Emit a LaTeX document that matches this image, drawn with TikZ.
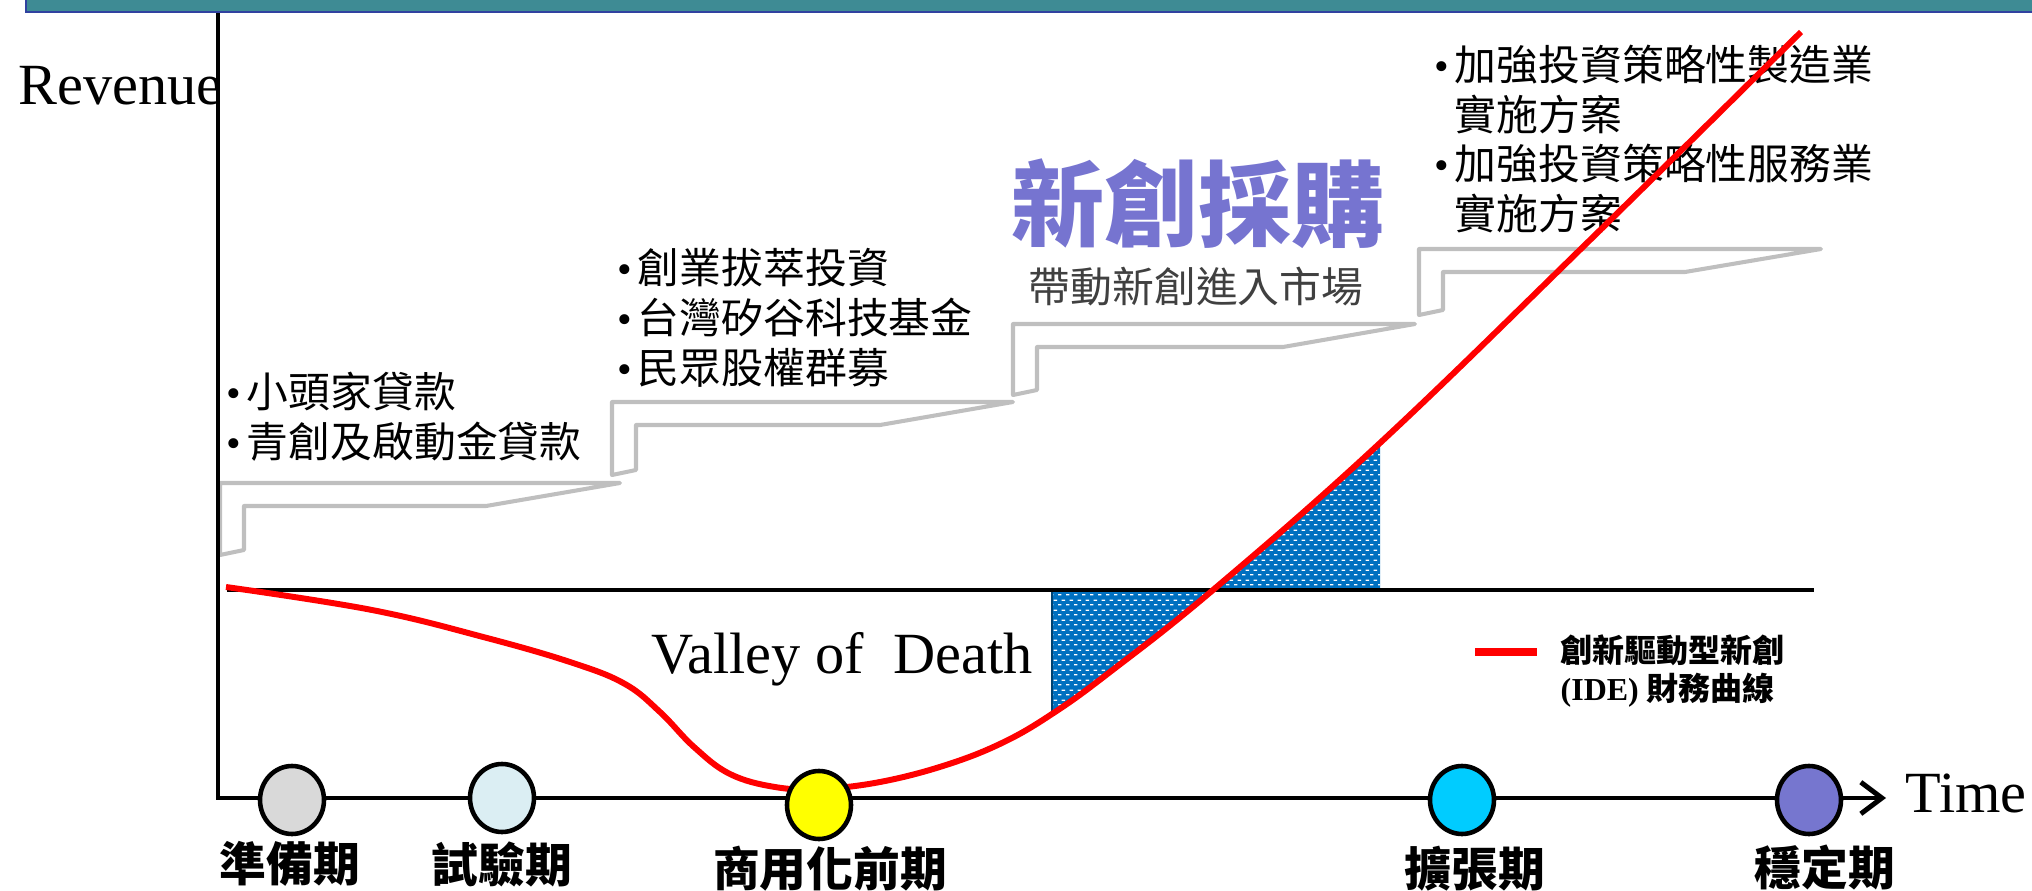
\documentclass[tikz,border=0pt]{standalone}
\usepackage{fontspec}
\setmainfont{Liberation Serif}
\newfontfamily\cjk{Noto Sans CJK TC}
\usepackage{tikz}
\usetikzlibrary{arrows.meta}
\usetikzlibrary{shapes.geometric}
\usetikzlibrary{patterns}
\definecolor{bannerteal}{RGB}{62,139,148}
\definecolor{bannerblue}{RGB}{48,66,160}
\definecolor{stairgrey}{RGB}{191,191,191}
\definecolor{titlepurple}{RGB}{118,116,208}
\definecolor{subgrey}{RGB}{64,64,64}
\definecolor{hatchblue}{RGB}{0,112,192}
\definecolor{phaseA}{RGB}{217,217,217}
\definecolor{phaseB}{RGB}{219,238,243}
\definecolor{phaseC}{RGB}{255,255,0}
\definecolor{phaseD}{RGB}{0,204,255}
\definecolor{phaseE}{RGB}{118,118,207}
\pgfdeclarepatternformonly{whitedash}{\pgfpointorigin}{\pgfqpoint{2.3pt}{2.7pt}}{\pgfqpoint{2.3pt}{2.7pt}}{
  \pgfsetlinewidth{0.4pt}
  \pgfpathmoveto{\pgfqpoint{0pt}{0.65pt}}\pgfpathlineto{\pgfqpoint{1.1pt}{0.65pt}}
  \pgfpathmoveto{\pgfqpoint{1.15pt}{2pt}}\pgfpathlineto{\pgfqpoint{2.25pt}{2pt}}
  \pgfusepath{stroke}}
\newcommand{\listdot}{{\rmfamily\textbullet}\hspace{1.6pt}}
\newcommand{\idecurve}{plot[smooth,tension=0.65] coordinates {(226,587) (372,610) (487,638) (573,663) (625,684) (660,712) (694,747) (730,774) (775,787) (820,789) (880,782) (946,765) (1004,742) (1055,712) (1110,672) (1213,590) (1380,443) (1590,240) (1801,32)}}
\tikzset{
  stair/.style={draw=stairgrey, line width=1.15pt, line join=round},
  phase/.style={ellipse, draw, line width=1.3pt, minimum width=6.4mm, minimum height=6.8mm, inner sep=0pt},
  phaselabel/.style={font=\cjk\bfseries\fontsize{13.3}{16}\selectfont, inner sep=0pt},
  axislabel/.style={font=\fontsize{16.6}{19}\selectfont, inner sep=0pt, anchor=base west},
  fundlist/.style={font=\cjk\fontsize{11.9}{14.2}\selectfont, align=left, anchor=west, inner sep=0pt},
  ideline/.style={red, line width=1.7pt}
}

\begin{document}
\begin{tikzpicture}[x=0.1mm,y=-0.1mm]
\useasboundingbox (0,0) rectangle (2032,891);
% banner
\fill[bannerteal] (26,-20) rectangle (2040,12);
\draw[bannerblue, line width=0.8pt] (26,-20) -- (26,12) -- (2040,12);
% stairs
\draw[stair] (220,555) -- (220,483) -- (620,483) -- (486,506) -- (244,506) -- (244,550) -- cycle;
\draw[stair] (612,475) -- (612,402) -- (1013,402) -- (880,425) -- (636,425) -- (636,470) -- cycle;
\draw[stair] (1013,395) -- (1013,324) -- (1415,324) -- (1283,347) -- (1037,347) -- (1037,390) -- cycle;
\draw[stair] (1419,315) -- (1419,249) -- (1821,249) -- (1685,272) -- (1443,272) -- (1443,310) -- cycle;
% funding texts
\node (loans) at (226,417) [fundlist] {\listdot 小頭家貸款\\ \listdot 青創及啟動金貸款};
\node (invest) at (617,318) [fundlist] {\listdot 創業拔萃投資\\ \listdot 台灣矽谷科技基金\\ \listdot 民眾股權群募};
\node (plans) at (1434,139) [fundlist] {\listdot 加強投資策略性製造業\\ \hphantom{\listdot}實施方案\\ \listdot 加強投資策略性服務業\\ \hphantom{\listdot}實施方案};
\node (procure) at (1198,204) [font=\cjk\bfseries\fontsize{26.5}{30}\selectfont, text=titlepurple, inner sep=0pt] {新創採購};
\node (market) at (1196,287) [font=\cjk\fontsize{11.9}{14.2}\selectfont, text=subgrey, inner sep=0pt] {帶動新創進入市場};
% valley of death
\begin{scope}
\clip (1052,0) rectangle (1380,891);
\fill[hatchblue] \idecurve -- (1801,590) -- (226,590) -- cycle;
\fill[pattern=whitedash, pattern color=white] \idecurve -- (1801,590) -- (226,590) -- cycle;
\end{scope}
\draw[hatchblue!60!black, line width=0.3pt] (1052,590) -- (1052,713);
\coordinate (zeroL) at (227,590);
\coordinate (zeroR) at (1814,590);
\draw[line width=1pt] (zeroL) -- (zeroR);
\node (valley) at (651,673) [axislabel] {Valley of~ Death};
\draw[ideline] \idecurve;
% axes
\coordinate (ytop) at (218,13);
\coordinate (origin) at (218,798);
\coordinate (xend) at (1886,798);
\draw[line width=1.4pt, -{Straight Barb[length=6pt,width=9pt]}] (ytop) -- (origin) -- (xend);
\node (rev) at (18,105) [axislabel] {Revenue};
\node (time) at (1905,812) [axislabel] {Time};
% phases
\node (c1) at (292,800) [phase, fill=phaseA] {};
\node (c2) at (502,798) [phase, fill=phaseB] {};
\node (c3) at (819,805) [phase, fill=phaseC] {};
\node (c4) at (1462,800) [phase, fill=phaseD] {};
\node (c5) at (1809,800) [phase, fill=phaseE] {};
\node (l1) at (290,864) [phaselabel] {準備期};
\node (l2) at (502,864) [phaselabel] {試驗期};
\node (l3) at (830,869) [phaselabel] {商用化前期};
\node (l4) at (1475,869) [phaselabel] {擴張期};
\node (l5) at (1825,867) [phaselabel] {穩定期};
% legend
\coordinate (keyA) at (1475,652);
\coordinate (keyB) at (1537,652);
\draw[ideline, line width=2pt] (keyA) -- (keyB);
\node (key) at (1560,671) [anchor=west, align=left, inner sep=0pt, font=\bfseries\fontsize{9.1}{10.9}\selectfont] {{\cjk 創新驅動型新創}\\(IDE) {\cjk 財務曲線}};
\end{tikzpicture}
\end{document}
